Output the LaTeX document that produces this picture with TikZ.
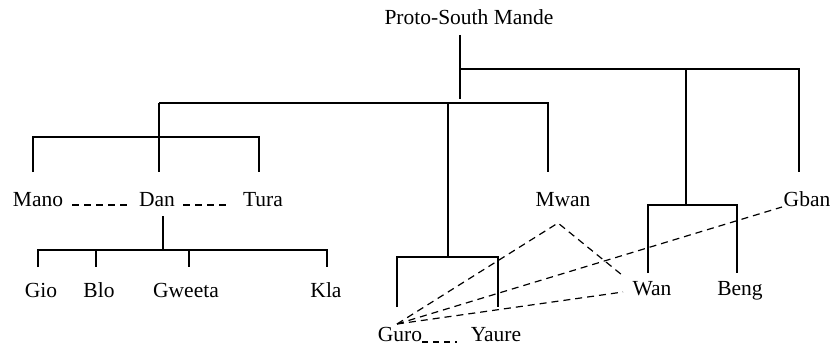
\documentclass[tikz,border=0pt]{standalone}
\usepackage{fontspec}
\setmainfont{Liberation Serif}
\begin{document}
\begin{tikzpicture}[x=1pt,y=-1pt,
  lang/.style={anchor=base,inner sep=0pt,font=\fontsize{21.5}{24}\selectfont},
  branch/.style={line width=1.3pt},
  link/.style={line width=1.2pt,dash pattern=on 7pt off 5pt}]
\useasboundingbox (0,0) rectangle (834,345);

% language labels (x = centre, y = baseline)
\node[lang] (root)   at (469,25)  {Proto-South Mande};
\node[lang] (mano)   at (38,206)  {Mano};
\node[lang] (dan)    at (157,206) {Dan};
\node[lang] (tura)   at (263,206) {Tura};
\node[lang] (mwan)   at (563,206) {Mwan};
\node[lang] (gban)   at (807,206) {Gban};
\node[lang] (gio)    at (41,297)  {Gio};
\node[lang] (blo)    at (99,297)  {Blo};
\node[lang] (gweeta) at (186,297) {Gweeta};
\node[lang] (kla)    at (326,297) {Kla};
\node[lang] (wan)    at (652,295) {Wan};
\node[lang] (beng)   at (740,295) {Beng};
\node[lang] (guro)   at (400,341) {Guro};
\node[lang] (yaure)  at (496,341) {Yaure};

% branch points of the tree
\coordinate (rootTop) at (460,35);
\coordinate (rootEnd) at (460,99);
\coordinate (eastL) at (460,69);
\coordinate (eastM) at (686,69);
\coordinate (eastR) at (799,69);
\coordinate (gbanTop) at (799,172);
\coordinate (westL) at (159,103);
\coordinate (westM) at (448,103);
\coordinate (westR) at (548,103);
\coordinate (mwanTop) at (548,172);
\coordinate (mdtL) at (33,137);
\coordinate (mdtR) at (259,137);
\coordinate (mdtMEnd) at (159,172);
\coordinate (manoTop) at (33,172);
\coordinate (turaTop) at (259,172);
\coordinate (gyM) at (448,257);
\coordinate (gyL) at (397,257);
\coordinate (gyR) at (498,257);
\coordinate (guroTop) at (397,307);
\coordinate (yaureTop) at (498,307);
\coordinate (wbM) at (686,205);
\coordinate (wbL) at (648,205);
\coordinate (wbR) at (737,205);
\coordinate (wanTop) at (648,273);
\coordinate (bengTop) at (737,273);
\coordinate (danBot) at (163,216);
\coordinate (danM) at (163,250);
\coordinate (danL) at (38,250);
\coordinate (danR) at (328,250);
\coordinate (gioTop) at (38,267);
\coordinate (bloTop) at (96,267);
\coordinate (bloM) at (96,250);
\coordinate (gweM) at (189,250);
\coordinate (gweTop) at (189,267);
\coordinate (klaM) at (327,250);
\coordinate (klaTop) at (327,267);

% ends of the dashed contact lines
\coordinate (guroTip) at (397,324);
\coordinate (mwanTip) at (558,223);
\coordinate (mwanEnd) at (622,275);
\coordinate (gbanTip) at (782,207);
\coordinate (wanTip) at (623,292);

% tree
\draw[branch] (rootTop) -- (rootEnd);
\draw[branch] (eastL) -- (eastR) -- (gbanTop);
\draw[branch] (eastM) -- (wbM);
\draw[branch] (westL) -- (westR) -- (mwanTop);
\draw[branch] (westL) -- (mdtMEnd);
\draw[branch] (manoTop) -- (mdtL) -- (mdtR) -- (turaTop);
\draw[branch] (westM) -- (gyM);
\draw[branch] (guroTop) -- (gyL) -- (gyR) -- (yaureTop);
\draw[branch] (wanTop) -- (wbL) -- (wbR) -- (bengTop);
\draw[branch] (danBot) -- (danM);
\draw[branch] (gioTop) -- (danL) -- (danR);
\draw[branch] (bloM) -- (bloTop);
\draw[branch] (gweM) -- (gweTop);
\draw[branch] (klaM) -- (klaTop);

% dialect continua and contact
\draw[link] (mano.base east) ++(9,-1) -- ([shift={(-10,-1)}]dan.base west);
\draw[link] (dan.base east) ++(8,-1) -- ([shift={(-13,-1)}]tura.base west);
\draw[link,dash pattern=on 6pt off 5pt] (guro.base east) ++(0,1) -- ([shift={(-14,1)}]yaure.base west);
\draw[link] (guroTip) -- (mwanTip) -- (mwanEnd);
\draw[link] (guroTip) -- (gbanTip);
\draw[link] (guroTip) -- (wanTip);
\end{tikzpicture}
\end{document}
